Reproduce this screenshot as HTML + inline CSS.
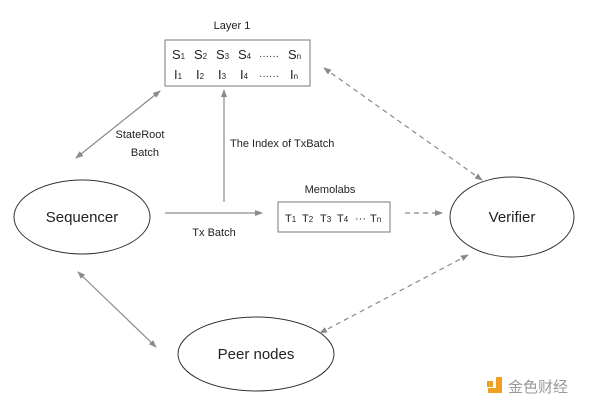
<!DOCTYPE html>
<html><head><meta charset="utf-8"><style>
html,body{margin:0;padding:0;background:#fff;}
svg{display:block;font-family:"Liberation Sans","Noto Sans CJK SC",sans-serif;}
</style></head><body>
<svg width="600" height="410" viewBox="0 0 600 410" xmlns="http://www.w3.org/2000/svg">
<defs>
<marker id="a" markerWidth="8" markerHeight="8" refX="7" refY="4" orient="auto-start-reverse" markerUnits="userSpaceOnUse">
<path d="M0,1 L8,4 L0,7 z" fill="#8a8a8a"/></marker>
</defs>
<g fill="none" stroke="#333" stroke-width="1">
<rect x="165" y="40" width="145" height="46" stroke="#777"/>
<ellipse cx="82" cy="217" rx="68" ry="37"/>
<ellipse cx="512" cy="217" rx="62" ry="40"/>
<ellipse cx="256" cy="354" rx="78" ry="37"/>
<rect x="278" y="202" width="112" height="30" stroke="#777"/>
</g>
<g stroke="#8a8a8a" stroke-width="1.2" fill="none">
<line x1="165" y1="213" x2="262" y2="213" marker-end="url(#a)"/>
<line x1="224" y1="202" x2="224" y2="90" marker-end="url(#a)"/>
<line x1="76" y1="158" x2="160" y2="91" marker-start="url(#a)" marker-end="url(#a)"/>
<line x1="78" y1="272" x2="156" y2="347" marker-start="url(#a)" marker-end="url(#a)"/>
<line x1="324" y1="68" x2="482" y2="180" stroke-dasharray="5,4" marker-start="url(#a)" marker-end="url(#a)"/>
<line x1="405" y1="213" x2="442" y2="213" stroke-dasharray="5,4" marker-end="url(#a)"/>
<line x1="320" y1="333" x2="468" y2="255" stroke-dasharray="5,4" marker-start="url(#a)" marker-end="url(#a)"/>
</g>
<g fill="#222" font-size="11">
<text x="232" y="29" text-anchor="middle">Layer 1</text>
<g font-size="13">
<text x="172" y="59">S<tspan font-size="8">1</tspan></text>
<text x="194" y="59">S<tspan font-size="8">2</tspan></text>
<text x="216" y="59">S<tspan font-size="8">3</tspan></text>
<text x="238" y="59">S<tspan font-size="8">4</tspan></text>
<text x="259" y="59" font-size="10">······</text>
<text x="288" y="59">S<tspan font-size="8">n</tspan></text>
<text x="174" y="79">I<tspan font-size="8">1</tspan></text>
<text x="196" y="79">I<tspan font-size="8">2</tspan></text>
<text x="218" y="79">I<tspan font-size="8">3</tspan></text>
<text x="240" y="79">I<tspan font-size="8">4</tspan></text>
<text x="259" y="79" font-size="10">······</text>
<text x="290" y="79">I<tspan font-size="8">n</tspan></text>
</g>
<text x="140" y="138" text-anchor="middle">StateRoot</text>
<text x="145" y="156" text-anchor="middle">Batch</text>
<text x="230" y="147">The Index of TxBatch</text>
<text x="330" y="193" text-anchor="middle">Memolabs</text>
<text x="285" y="222">T<tspan font-size="8">1</tspan></text>
<text x="302" y="222">T<tspan font-size="8">2</tspan></text>
<text x="320" y="222">T<tspan font-size="8">3</tspan></text>
<text x="337" y="222">T<tspan font-size="8">4</tspan></text>
<text x="355" y="222">···</text>
<text x="370" y="222">T<tspan font-size="8">n</tspan></text>
<text x="214" y="236" text-anchor="middle">Tx Batch</text>
<text x="82" y="222" text-anchor="middle" font-size="15">Sequencer</text>
<text x="512" y="222" text-anchor="middle" font-size="15">Verifier</text>
<text x="256" y="359" text-anchor="middle" font-size="15">Peer nodes</text>
</g>
<rect x="487" y="381" width="6" height="6" fill="#f0a020"/>
<path d="M496 377 h6 v16 h-14 v-5 h8 z" fill="#f0a020"/>
<text x="508" y="392" font-size="15" fill="#999" font-family="'Noto Sans CJK SC',sans-serif">金色财经</text>
</svg>
</body></html>
